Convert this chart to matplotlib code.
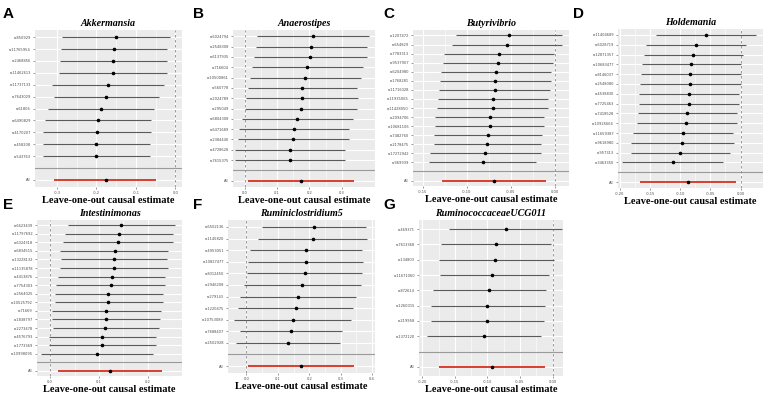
import matplotlib.pyplot as plt

# panel titles
titles = ["Akkermansia", "Anaerostipes", "Butyrivibrio", "Holdemania",
          "Intestinimonas", "Ruminiclostridium5", "RuminococcaceaeUCG011"]
letters = ["A", "B", "C", "D", "E", "F", "G"]

# A - Akkermansia
snps_a = ["rs850929", "rs11765954", "rs2468856", "rs11462613", "rs11737133", "rs7643029",
          "rs61806", "rs6490829", "rs4170207", "rs458208", "rs543763"]
est_a = [-0.151, -0.155, -0.157, -0.158, -0.172, -0.175, -0.189, -0.197, -0.198, -0.200, -0.202]
lo_a = [-0.288, -0.290, -0.292, -0.295, -0.314, -0.307, -0.322, -0.331, -0.335, -0.336, -0.336]
hi_a = [-0.013, -0.021, -0.021, -0.021, -0.029, -0.042, -0.054, -0.062, -0.062, -0.064, -0.065]
all_a = [-0.177, -0.307, -0.048]

# B - Anaerostipes
snps_b = ["rs6024794", "rs2548308", "rs6137935", "rs716604", "rs10500861", "rs560778",
          "rs2024789", "rs295049", "rs6804308", "rs6471689", "rs2384440", "rs4728628", "rs7615375"]
est_b = [0.211, 0.205, 0.202, 0.193, 0.186, 0.177, 0.177, 0.173, 0.162, 0.153, 0.150, 0.140, 0.140]
lo_b = [0.039, 0.036, 0.028, 0.024, 0.016, 0.010, 0.005, 0.002, -0.008, -0.018, -0.021, -0.029, -0.031]
hi_b = [0.383, 0.377, 0.377, 0.365, 0.360, 0.346, 0.350, 0.346, 0.336, 0.324, 0.323, 0.311, 0.311]
all_b = [0.175, 0.010, 0.339]

# C - Butyrivibrio
snps_c = ["rs1207472", "rs654829", "rs7783313", "rs9537907", "rs6204980", "rs1768281",
          "rs11716328", "rs11935065", "rs11428050", "rs2094706", "rs10681106", "rs7482760",
          "rs2178475", "rs17272942", "rs969939"]
est_c = [-0.0524, -0.0543, -0.0638, -0.0646, -0.0665, -0.0676, -0.0684, -0.0703, -0.0706,
         -0.0737, -0.0737, -0.0760, -0.0767, -0.0790, -0.0820]
lo_c = [-0.1128, -0.1166, -0.1261, -0.1272, -0.1291, -0.1310, -0.1318, -0.1329, -0.1341,
        -0.1360, -0.1360, -0.1379, -0.1375, -0.1424, -0.1432]
hi_c = [0.0087, 0.0084, -0.0011, -0.0019, -0.0038, -0.0046, -0.0049, -0.0076, -0.0072,
        -0.0118, -0.0118, -0.0141, -0.0156, -0.0160, -0.0209]
all_c = [-0.0691, -0.1288, -0.0103]

# D - Holdemania
snps_d = ["rs11404689", "rs6028719", "rs12871357", "rs10683477", "rs8146037", "rs2548080",
          "rs4538830", "rs7725463", "rs7418528", "rs10925664", "rs11659387", "rs9618980",
          "rs957313", "rs3463350"]
est_d = [-0.0578, -0.0744, -0.0789, -0.0822, -0.0833, -0.0839, -0.0856, -0.0856, -0.0889,
         -0.0900, -0.0956, -0.0972, -0.1000, -0.1122]
lo_d = [-0.1411, -0.1561, -0.1606, -0.1633, -0.1656, -0.1667, -0.1683, -0.1689, -0.1700,
        -0.1711, -0.1778, -0.1817, -0.1817, -0.1961]
hi_d = [0.0261, 0.0083, 0.0033, 0.0000, 0.0000, 0.0000, -0.0022, -0.0028, -0.0061,
        -0.0067, -0.0122, -0.0106, -0.0172, -0.0289]
all_d = [-0.0867, -0.1661, -0.0072]

# E - Intestinimonas
snps_e = ["rs6623439", "rs11797692", "rs6324318", "rs6834515", "rs13228132", "rs11135878",
          "rs4413876", "rs7754303", "rs2564025", "rs10525792", "rs71669", "rs1838797",
          "rs2273478", "rs4576793", "rs1773369", "rs10998095"]
est_e = [0.146, 0.141, 0.139, 0.132, 0.131, 0.131, 0.126, 0.124, 0.119, 0.119, 0.115,
         0.114, 0.113, 0.106, 0.106, 0.096]
lo_e = [0.036, 0.031, 0.027, 0.021, 0.023, 0.020, 0.017, 0.012, 0.009, 0.009, 0.003,
        0.004, 0.005, -0.003, -0.003, -0.018]
hi_e = [0.256, 0.252, 0.252, 0.241, 0.239, 0.241, 0.235, 0.236, 0.231, 0.231, 0.227,
        0.225, 0.223, 0.217, 0.217, 0.210]
all_e = [0.123, 0.016, 0.229]

# F - Ruminiclostridium5
snps_f = ["rs6502136", "rs1145820", "rs4953051", "rs10827477", "rs8312450", "rs2946208",
          "rs279143", "rs1220475", "rs10753089", "rs7688407", "rs2502928"]
est_f = [0.215, 0.211, 0.189, 0.189, 0.186, 0.177, 0.165, 0.157, 0.147, 0.143, 0.131]
lo_f = [0.048, 0.037, 0.011, 0.006, 0.001, -0.009, -0.021, -0.026, -0.039, -0.021, -0.035]
hi_f = [0.381, 0.383, 0.370, 0.373, 0.370, 0.365, 0.350, 0.340, 0.335, 0.306, 0.298]
all_f = [0.173, 0.004, 0.343]

# G - RuminococcaceaeUCG011
snps_g = ["rs469371", "rs7613368", "rs134803", "rs11671060", "rs872614", "rs1260015",
          "rs219958", "rs1372120"]
est_g = [-0.0720, -0.0869, -0.0884, -0.0925, -0.0972, -0.1003, -0.1003, -0.1054]
lo_g = [-0.1589, -0.1717, -0.1743, -0.1733, -0.1835, -0.1871, -0.1861, -0.1928]
hi_g = [0.0144, -0.0026, 0.0026, -0.0062, -0.0103, -0.0123, -0.0139, -0.0180]
all_g = [-0.0925, -0.1743, -0.0118]

panels = [
    (snps_a, est_a, lo_a, hi_a, all_a, [-0.3, -0.2, -0.1, 0.0], "{:.1f}", (-0.356, 0.017)),
    (snps_b, est_b, lo_b, hi_b, all_b, [0.0, 0.1, 0.2, 0.3], "{:.1f}", (-0.036, 0.403)),
    (snps_c, est_c, lo_c, hi_c, all_c, [-0.15, -0.10, -0.05, 0.0], "{:.2f}", (-0.1614, 0.0163)),
    (snps_d, est_d, lo_d, hi_d, all_d, [-0.20, -0.15, -0.10, -0.05, 0.0], "{:.2f}", (-0.2033, 0.0372)),
    (snps_e, est_e, lo_e, hi_e, all_e, [0.0, 0.1, 0.2], "{:.1f}", (-0.027, 0.270)),
    (snps_f, est_f, lo_f, hi_f, all_f, [0.0, 0.1, 0.2, 0.3, 0.4], "{:.1f}", (-0.059, 0.410)),
    (snps_g, est_g, lo_g, hi_g, all_g, [-0.20, -0.15, -0.10, -0.05, 0.0], "{:.2f}", (-0.205, 0.016)),
]

# axes boxes in pixels: left, top, right, bottom
boxes = [(35, 30, 182, 187), (233, 30, 375, 187), (413, 30, 569, 186), (618, 29, 763, 188),
         (37, 220, 182, 376), (228, 220, 375, 373), (419, 220, 563, 376)]
letter_pos = [(3, 18), (193, 18), (383, 18), (573, 18), (3, 209), (193, 209), (383, 209)]

W, H = 767, 394
fig = plt.figure(figsize=(W / 100, H / 100), dpi=100)
fig.patch.set_facecolor("white")

serif = "Liberation Serif"

for i, (snps, est, lo, hi, allv, ticks, fmt, xl) in enumerate(panels):
    l, t, r, b = boxes[i]
    ax = fig.add_axes([l / W, 1 - b / H, (r - l) / W, (b - t) / H])
    ax.set_facecolor("#EBEBEB")
    n = len(snps)
    ys = [n + 2 - k for k in range(n)]
    ax.hlines(ys, lo, hi, color="#5a5a5a", lw=0.8, zorder=3)
    ax.scatter(est, ys, s=2.5, color="black", zorder=4)
    ax.hlines([1], [allv[1]], [allv[2]], color="#D7301F", lw=1.3, zorder=3)
    ax.scatter([allv[0]], [1], s=2.5, color="black", zorder=4)
    ax.axhline(2, color="#9a9a9a", lw=0.8, zorder=2)
    ax.axvline(0, color="#8a8a8a", lw=0.6, ls=(0, (3, 3)), zorder=2)
    ax.set_xlim(*xl)
    ax.set_ylim(0.4, n + 2.6)
    ax.set_xticks(ticks)
    ax.set_xticklabels([fmt.format(v) for v in ticks])
    mids = [(ticks[k] + ticks[k + 1]) / 2 for k in range(len(ticks) - 1)]
    ax.set_xticks(mids, minor=True)
    ax.set_yticks([1] + ys)
    ax.set_yticklabels(["All"] + snps)
    ax.grid(True, which="major", color="white", lw=0.8, zorder=0)
    ax.grid(True, which="minor", axis="x", color="white", lw=0.4, zorder=0)
    ax.set_axisbelow(True)
    for s in ax.spines.values():
        s.set_visible(False)
    ax.tick_params(axis="both", which="major", labelsize=2.6, colors="#4D4D4D",
                   length=1.5, width=0.4, pad=1.5)
    ax.tick_params(axis="both", which="minor", length=0)
    ax.set_title(titles[i], fontfamily=serif, fontstyle="italic", fontweight="bold",
                 fontsize=7.2, pad=3)
    ax.set_xlabel("Leave-one-out causal estimate", fontfamily=serif, fontweight="bold",
                  fontsize=7.4, labelpad=0.5)
    fig.text(letter_pos[i][0] / W, 1 - letter_pos[i][1] / H, letters[i], fontsize=11,
             fontweight="bold", fontfamily="Liberation Sans", ha="left", va="baseline")

fig.savefig("out.png", dpi=100)
